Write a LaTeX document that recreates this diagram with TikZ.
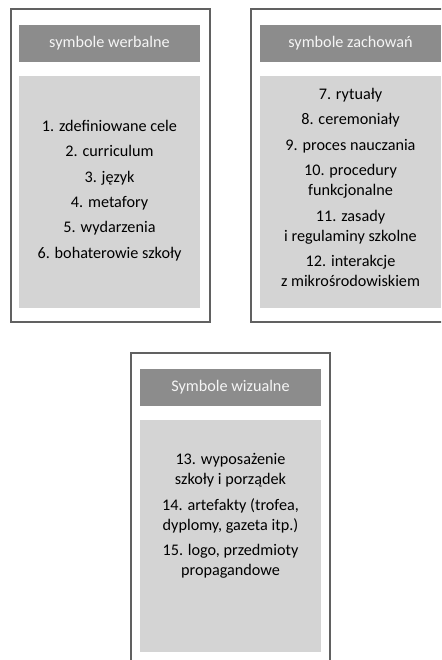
\documentclass[tikz,border=0pt]{standalone}
\usepackage{fontspec}
\setmainfont{Carlito}
\usepackage{tikz}
\usetikzlibrary{positioning}
\definecolor{framegray}{rgb}{0.38, 0.38, 0.38}
\definecolor{headgray}{rgb}{0.55, 0.55, 0.55}
\definecolor{bodygray}{rgb}{0.83, 0.83, 0.83}
\definecolor{headtext}{rgb}{0.96, 0.96, 0.96}

\begin{document}
\begin{tikzpicture}[x=1pt,y=-1pt,
    frame/.style={draw=framegray,line width=1.3pt,fill=white},
    head/.style={fill=headgray,text=headtext,minimum width=181pt,minimum height=37pt,inner sep=0pt},
    body/.style={fill=bodygray,minimum width=181pt,minimum height=232pt,inner sep=0pt},
    items/.style={align=center,inner sep=0pt,font=\fontsize{16.2}{20}\selectfont}]
  \useasboundingbox (0,0) rectangle (441,660);
  \clip (0,0) rectangle (441,660);

  % symbole werbalne
  \draw[frame] (11,9) rectangle (210,322);
  \node[head,font=\fontsize{16.2}{20}\selectfont] (hverb) at (109.5,43.5) {symbole werbalne};
  \node[body] (bverb) at (109.5,192) {};
  \node[items] (tverb) at (109.5,190.5) {1. zdefiniowane cele\\[5.4pt]
    2. curriculum\\[5.4pt]
    3. język\\[5.4pt]
    4. metafory\\[5.4pt]
    5. wydarzenia\\[5.4pt]
    6. bohaterowie szkoły};

  % symbole zachowan
  \draw[frame] (251,9) rectangle (450,322);
  \node[head,font=\fontsize{16.2}{20}\selectfont] (hbeh) at (350.5,43.5) {symbole zachowań};
  \node[body] (bbeh) at (350.5,192) {};
  \node[items] (tbeh) at (350.5,187.5) {7. rytuały\\[5.4pt]
    8. ceremoniały\\[5.4pt]
    9. proces nauczania\\[5.4pt]
    10. procedury\\funkcjonalne\\[5.4pt]
    11. zasady\\i regulaminy szkolne\\[5.4pt]
    12. interakcje\\z mikrośrodowiskiem};

  % symbole wizualne
  \draw[frame] (131,353) rectangle (330,666);
  \node[head,font=\fontsize{16.2}{20}\selectfont] (hvis) at (230.5,387.5) {Symbole wizualne};
  \node[body] (bvis) at (230.5,536) {};
  \node[items] (tvis) at (230.5,516) {13. wyposażenie\\szkoły i porządek\\[5.4pt]
    14. artefakty (trofea,\\dyplomy, gazeta itp.)\\[5.4pt]
    15. logo, przedmioty\\propagandowe};
\end{tikzpicture}
\end{document}
